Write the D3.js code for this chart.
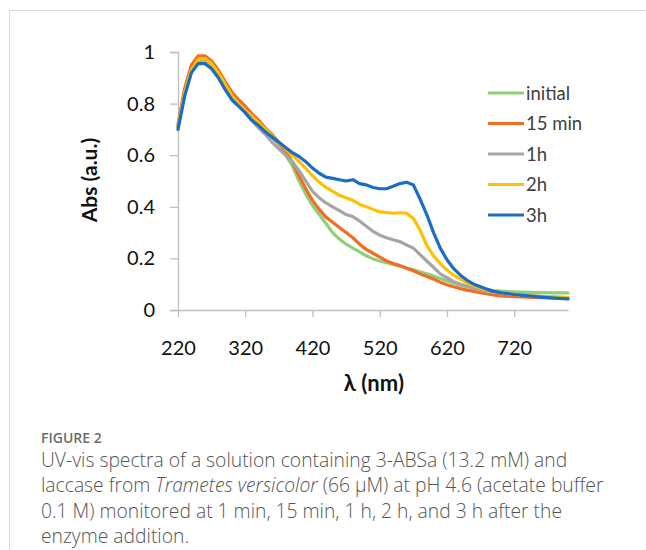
<!DOCTYPE html>
<html>
<head>
<meta charset="utf-8">
<script src="https://cdn.jsdelivr.net/npm/d3@7"></script>
<style>
  html, body { margin: 0; padding: 0; background: #fff; }
  svg { display: block; }
</style>
</head>
<body>
<svg id="chart" width="646" height="550"></svg>
<script>
// Wavelength grid (nm) shared by all spectra
const wavelengths = [220,230,240,250,260,270,280,290,300,310,320,330,340,350,360,370,380,390,400,410,
  420,430,440,450,460,470,480,490,500,510,520,530,540,550,560,570,580,590,600,610,
  620,630,640,650,660,670,680,690,700,720,740,760,780,800];

// Absorbance (a.u.) of each spectrum
const absInitial = [0.71,0.85,0.94,0.97,0.97,0.955,0.92,0.88,0.84,0.81,0.78,0.75,0.725,0.70,0.67,0.64,0.60,0.56,0.50,0.45,
  0.405,0.37,0.335,0.30,0.275,0.255,0.24,0.225,0.21,0.198,0.19,0.183,0.177,0.17,0.163,0.156,0.148,0.14,0.132,0.122,
  0.113,0.104,0.096,0.09,0.085,0.081,0.078,0.075,0.073,0.07,0.068,0.067,0.066,0.066];
const abs15min = [0.72,0.86,0.95,0.985,0.985,0.965,0.93,0.885,0.845,0.815,0.79,0.76,0.735,0.705,0.68,0.65,0.615,0.575,0.52,0.47,
  0.425,0.39,0.36,0.34,0.32,0.30,0.28,0.255,0.235,0.22,0.205,0.19,0.18,0.172,0.162,0.152,0.14,0.13,0.12,0.108,
  0.098,0.09,0.083,0.077,0.072,0.067,0.062,0.058,0.055,0.052,0.05,0.048,0.047,0.046];
const abs1h = [0.71,0.84,0.93,0.965,0.97,0.95,0.915,0.87,0.825,0.795,0.765,0.735,0.705,0.68,0.65,0.625,0.60,0.575,0.54,0.50,
  0.46,0.435,0.415,0.40,0.385,0.37,0.362,0.345,0.325,0.305,0.29,0.28,0.272,0.265,0.252,0.24,0.215,0.19,0.165,0.14,
  0.125,0.11,0.10,0.092,0.085,0.08,0.074,0.07,0.066,0.06,0.056,0.053,0.05,0.048];
const abs2h = [0.71,0.84,0.93,0.97,0.975,0.955,0.92,0.875,0.83,0.80,0.775,0.75,0.725,0.70,0.675,0.65,0.625,0.60,0.575,0.55,
  0.52,0.495,0.475,0.46,0.445,0.435,0.425,0.41,0.40,0.39,0.38,0.378,0.375,0.377,0.375,0.355,0.31,0.25,0.21,0.18,
  0.155,0.135,0.12,0.105,0.095,0.085,0.078,0.072,0.067,0.06,0.056,0.052,0.05,0.048];
const abs3h = [0.70,0.83,0.92,0.955,0.955,0.935,0.90,0.855,0.815,0.79,0.765,0.735,0.715,0.69,0.67,0.65,0.63,0.61,0.595,0.575,
  0.55,0.53,0.515,0.51,0.505,0.50,0.505,0.49,0.485,0.475,0.47,0.47,0.48,0.49,0.495,0.485,0.43,0.37,0.30,0.24,
  0.195,0.16,0.135,0.115,0.10,0.09,0.08,0.072,0.067,0.06,0.055,0.05,0.046,0.043];

const seriesNames = ["initial", "15 min", "1h", "2h", "3h"];
const seriesValues = [absInitial, abs15min, abs1h, abs2h, abs3h];
const seriesColors = ["#8fcf7a", "#f36c21", "#a5a5a5", "#ffc000", "#1a6cc4"];

const xTicks = [220, 320, 420, 520, 620, 720];
const yTicks = [0, 0.2, 0.4, 0.6, 0.8, 1];

const svg = d3.select("#chart");

// card frame
svg.append("path")
  .attr("d", "M9.5,550 V10.5 H646")
  .attr("fill", "none")
  .attr("stroke", "#d9d9d9")
  .attr("stroke-width", 1);

const x = d3.scaleLinear().domain([220, 800]).range([178, 568]);
const y = d3.scaleLinear().domain([0, 1]).range([310, 52]);

const axisColor = "#bfbfbf";
const tickFont = "Lato, 'Open Sans', sans-serif";

// y axis
const yAxis = svg.append("g")
  .attr("transform", "translate(178,0)")
  .call(d3.axisLeft(y).tickValues(yTicks).tickSize(8).tickPadding(15)
    .tickFormat(d => d === 0 ? "0" : d === 1 ? "1" : d3.format(".1f")(d)));
yAxis.select(".domain").attr("stroke", axisColor).attr("stroke-width", 1.3);
yAxis.selectAll(".tick line").attr("stroke", axisColor).attr("stroke-width", 1.3);
yAxis.selectAll(".tick text")
  .attr("font-family", tickFont).attr("font-size", 20).attr("fill", "#111");

// x axis
const xAxis = svg.append("g")
  .attr("transform", "translate(0,310)")
  .call(d3.axisBottom(x).tickValues(xTicks).tickSize(7).tickPadding(24).tickSizeOuter(0));
xAxis.select(".domain").attr("stroke", axisColor).attr("stroke-width", 1.3);
xAxis.selectAll(".tick line").attr("stroke", axisColor).attr("stroke-width", 1.3);
xAxis.selectAll(".tick text")
  .attr("font-family", tickFont).attr("font-size", 20).attr("fill", "#111");

// axis titles
svg.append("text")
  .attr("x", 374).attr("y", 391)
  .attr("text-anchor", "middle")
  .attr("font-family", tickFont).attr("font-weight", "bold").attr("font-size", 22)
  .attr("fill", "#111")
  .text("λ (nm)");

svg.append("text")
  .attr("transform", "translate(97,180) rotate(-90)")
  .attr("text-anchor", "middle")
  .attr("font-family", tickFont).attr("font-weight", "bold").attr("font-size", 21)
  .attr("fill", "#111")
  .text("Abs (a.u.)");

// spectra
const line = d3.line()
  .x((d, i) => x(wavelengths[i]))
  .y(d => y(d))
  .curve(d3.curveLinear);

svg.append("g").selectAll("path")
  .data(seriesValues)
  .join("path")
  .attr("d", line)
  .attr("fill", "none")
  .attr("stroke", (d, i) => seriesColors[i])
  .attr("stroke-width", 3.2)
  .attr("stroke-linejoin", "round")
  .attr("stroke-linecap", "round");

// legend
const legend = svg.append("g");
seriesNames.forEach((name, i) => {
  const ly = 93 + i * 30.5;
  legend.append("line")
    .attr("x1", 488).attr("x2", 524).attr("y1", ly).attr("y2", ly)
    .attr("stroke", seriesColors[i]).attr("stroke-width", 3.2);
  legend.append("text")
    .attr("x", 526).attr("y", ly + 6.5)
    .attr("font-family", tickFont).attr("font-size", 18.5).attr("fill", "#404040")
    .text(name);
});

// figure caption
const capFont = "'Open Sans', 'Noto Sans', sans-serif";
svg.append("text")
  .attr("x", 41).attr("y", 443)
  .attr("font-family", capFont).attr("font-size", 14).attr("font-weight", 600)
  .attr("fill", "#6b6b6b")
  .text("FIGURE 2");

const capLines = [
  [["UV-vis spectra of a solution containing 3-ABSa (13.2 mM) and", false]],
  [["laccase from ", false], ["Trametes versicolor", true], [" (66 μM) at pH 4.6 (acetate buffer", false]],
  [["0.1 M) monitored at 1 min, 15 min, 1 h, 2 h, and 3 h after the", false]],
  [["enzyme addition.", false]]
];
capLines.forEach((parts, i) => {
  const t = svg.append("text")
    .attr("x", 41).attr("y", 467 + i * 25.3)
    .attr("font-family", capFont).attr("font-size", 19.3).attr("font-weight", 300)
    .attr("fill", "#555");
  parts.forEach(([s, it]) => {
    t.append("tspan").attr("font-style", it ? "italic" : "normal").text(s);
  });
});
</script>
</body>
</html>
